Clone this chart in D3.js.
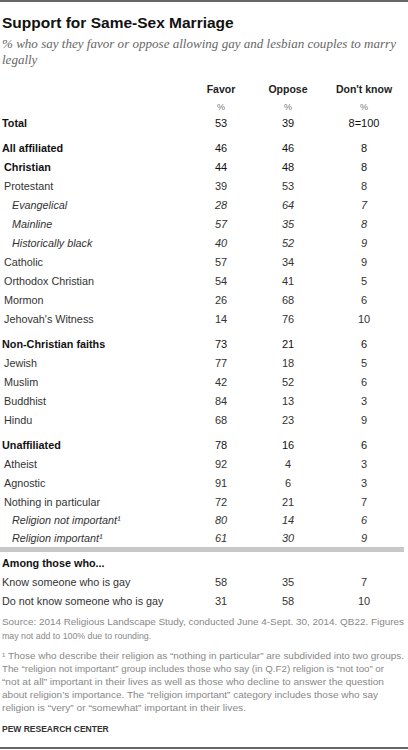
<!DOCTYPE html><html><head><meta charset="utf-8"><script src="https://cdn.jsdelivr.net/npm/d3@7"></script>
<style>body{margin:0;background:#fff}</style></head><body><svg id="c" width="408" height="750"></svg>
<script>
const labels=["Total","All affiliated","Christian","Protestant","Evangelical","Mainline","Historically black","Catholic","Orthodox Christian","Mormon","Jehovah's Witness","Non-Christian faiths","Jewish","Muslim","Buddhist","Hindu","Unaffiliated","Atheist","Agnostic","Nothing in particular","Religion not important¹","Religion important¹","Among those who...","Know someone who is gay","Do not know someone who is gay"];
const favor=["53","46","44","39","28","57","40","57","54","26","14","73","77","42","84","68","78","92","91","72","80","61","","58","31"];
const oppose=["39","46","48","53","64","35","52","34","41","68","76","21","18","52","13","23","16","4","6","21","14","30","","35","58"];
const dontKnow=["8=100","8","8","8","7","8","9","9","5","6","10","6","5","6","3","9","6","3","3","7","6","9","","7","10"];
const rowY=[123,148,167,186,205,224,243,262,281,300,319,344,363,382,401,420,445,464,483,502,520,538,563,582,601];
const styles=["b","b","b1","n1","i2","i2","i2","n1","n1","n1","n1","b","n1","n1","n1","n1","b","n1","n1","n1","i2","i2","b","n","n"];
const columns=["Favor","Oppose","Don't know"];
const svg=d3.select("#c");
const F="'Liberation Sans',Arial,sans-serif";
const xs={"Favor":221,"Oppose":288,"Don't know":364};
svg.append("line").attr("x1",0).attr("x2",408).attr("y1",1).attr("y2",1).attr("stroke","#333").attr("stroke-width",1.5);
svg.append("line").attr("x1",0).attr("x2",408).attr("y1",748).attr("y2",748).attr("stroke","#333").attr("stroke-width",1.5);
svg.append("text").attr("x",2).attr("y",28).attr("font-family",F).attr("font-weight","bold").attr("font-size",15.5).attr("fill","#111").text("Support for Same-Sex Marriage");
[["% who say they favor or oppose allowing gay and lesbian couples to marry",48],["legally",64]].forEach(([t,y])=>{const e=svg.append("text").attr("x",2).attr("y",y).attr("font-family","'Liberation Serif',serif").attr("font-style","italic").attr("font-size",13).attr("fill","#666").text(t); if(t.length>20)e.attr("textLength",394).attr("lengthAdjust","spacingAndGlyphs");});
columns.forEach(c=>{
 svg.append("text").attr("x",xs[c]).attr("y",93).attr("text-anchor","middle").attr("font-family",F).attr("font-weight","bold").attr("font-size",10.5).attr("fill","#222").text(c);
 svg.append("text").attr("x",xs[c]).attr("y",110).attr("text-anchor","middle").attr("font-family",F).attr("font-size",9).attr("fill","#777").text("%");
});
labels.forEach((l,i)=>{
 const s=styles[i];
 const g=svg.append("g").attr("font-family",F).attr("font-size",10.8).attr("fill",s[0]==="b"?"#111":"#333");
 const ind=s.endsWith("1")?4:s.endsWith("2")?12:2;
 const t=g.append("text").attr("x",ind).attr("y",rowY[i]+4).text(l);
 if(s[0]==="b")t.attr("font-weight","bold");
 if(s[0]==="i")t.attr("font-style","italic");
 [favor,oppose,dontKnow].forEach((arr,j)=>{
  const v=g.append("text").attr("x",xs[columns[j]]).attr("y",rowY[i]+4).attr("text-anchor","middle").attr("font-size",11).text(arr[i]);
  if(s[0]==="i")v.attr("font-style","italic");
 });
});
svg.append("rect").attr("x",0).attr("y",547).attr("width",404).attr("height",5).attr("fill","#c8c8c8");
const foot=[["Source: 2014 Religious Landscape Study, conducted June 4-Sept. 30, 2014. QB22. Figures",625,402],["may not add to 100% due to rounding.",639,0],
["¹ Those who describe their religion as “nothing in particular” are subdivided into two groups.",659,402],["The “religion not important” group includes those who say (in Q.F2) religion is “not too” or",672,382],["“not at all” important in their lives as well as those who decline to answer the question",685,382],["about religion’s importance. The “religion important” category includes those who say",698,376],["religion is “very” or “somewhat” important in their lives.",711,244]];
foot.forEach(([t,y,w])=>{const e=svg.append("text").attr("x",2).attr("y",y).attr("font-family",F).attr("font-size",8.8).attr("fill","#888").text(t); if(w)e.attr("textLength",w).attr("lengthAdjust","spacingAndGlyphs");});
svg.append("text").attr("x",2).attr("y",732).attr("font-family",F).attr("font-weight","bold").attr("font-size",8.5).attr("fill","#333").text("PEW RESEARCH CENTER");
</script></body></html>
